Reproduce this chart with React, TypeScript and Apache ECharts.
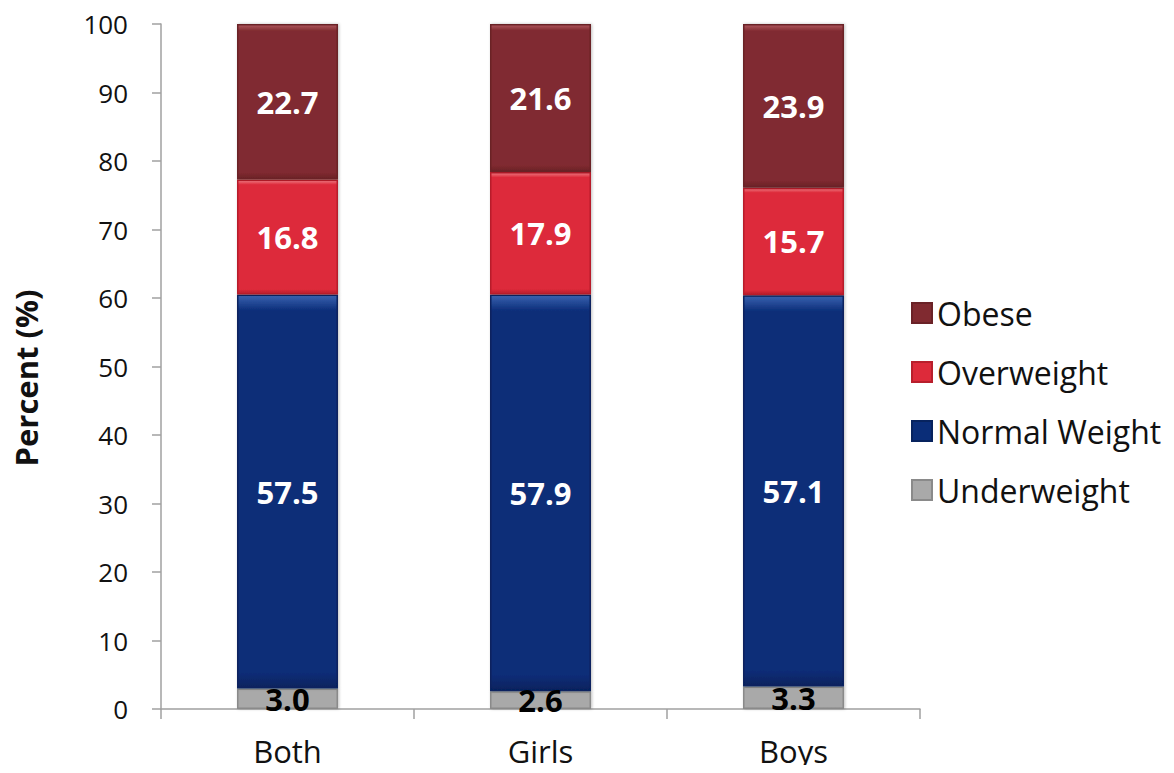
import React, { useEffect, useRef } from "react";
import * as echarts from "echarts";

const categories = ["Both", "Girls", "Boys"];
const underweight = [3.0, 2.6, 3.3];
const normalWeight = [57.5, 57.9, 57.1];
const overweight = [16.8, 17.9, 15.7];
const obese = [22.7, 21.6, 23.9];
const yTicks = [0, 10, 20, 30, 40, 50, 60, 70, 80, 90, 100];

const FONT = "'Open Sans', 'Noto Sans', sans-serif";

function barSeries(name: string, data: number[], color: string, top: string, border: string, labelColor: string) {
  return {
    name,
    type: "bar",
    stack: "total",
    data,
    barWidth: 101,
    itemStyle: {
      color: {
        type: "linear",
        x: 0,
        y: 0,
        x2: 0,
        y2: 1,
        colorStops: [
          { offset: 0, color: top },
          { offset: 0.04, color: color },
          { offset: 0.96, color: color },
          { offset: 1, color: border },
        ],
      },
      borderColor: border,
      borderWidth: 1.5,
      shadowColor: "rgba(0,0,0,0.25)",
      shadowBlur: 3,
      shadowOffsetX: 1,
    },
    label: {
      show: true,
      position: "inside",
      color: labelColor,
      fontFamily: FONT,
      fontWeight: "bold",
      fontSize: 31,
      formatter: (p: any) => Number(p.value).toFixed(1),
    },
  };
}

export default function App() {
  const ref = useRef<HTMLDivElement>(null);
  useEffect(() => {
    if (!ref.current) return;
    const chart = echarts.init(ref.current, undefined, { renderer: "svg" });
    chart.setOption({
      animation: false,
      grid: { left: 161, right: 254, top: 24, bottom: 64 },
      legend: {
        orient: "vertical",
        left: 906,
        top: 292,
        itemWidth: 20,
        itemHeight: 20,
        itemGap: 27,
        icon: "rect",
        data: ["Obese", "Overweight", "Normal Weight", "Underweight"],
        textStyle: { fontFamily: FONT, fontSize: 32, color: "#111" },
      },
      graphic: [
        {
          type: "text",
          x: 26,
          y: 378,
          rotation: Math.PI / 2,
          style: {
            text: "Percent (%)",
            fontFamily: FONT,
            fontSize: 31,
            fontWeight: "bold",
            fill: "#111",
            align: "center",
            verticalAlign: "middle",
          },
        },
      ],
      xAxis: {
        type: "category",
        data: categories,
        axisLine: { lineStyle: { color: "#a0a0a0", width: 1.5 } },
        axisTick: { show: true, length: 10, lineStyle: { color: "#a0a0a0", width: 1.5 } },
        axisLabel: { fontFamily: FONT, fontSize: 31, color: "#111", margin: 26 },
      },
      yAxis: {
        type: "value",
        min: 0,
        max: 100,
        interval: 10,
        axisLine: { show: true, lineStyle: { color: "#a0a0a0", width: 1.5 } },
        axisTick: { show: true, length: 9, lineStyle: { color: "#a0a0a0", width: 1.5 } },
        splitLine: { show: false },
        axisLabel: {
          fontFamily: FONT,
          fontSize: 26,
          color: "#111",
          margin: 33,
          formatter: (v: number) => (yTicks.includes(v) ? String(v) : ""),
        },
      },
      series: [
        barSeries("Underweight", underweight, "#a9a9a9", "#e6e6e6", "#8a8a8a", "#000"),
        barSeries("Normal Weight", normalWeight, "#0a2d78", "#3a62b0", "#07235e", "#fff"),
        barSeries("Overweight", overweight, "#dd2a3a", "#f07a82", "#b81f2c", "#fff"),
        barSeries("Obese", obese, "#802a30", "#b0585e", "#6a2227", "#fff"),
      ],
    });
    return () => chart.dispose();
  }, []);
  return <div ref={ref} style={{ width: 1174, height: 773, margin: -8 }} />;
}
